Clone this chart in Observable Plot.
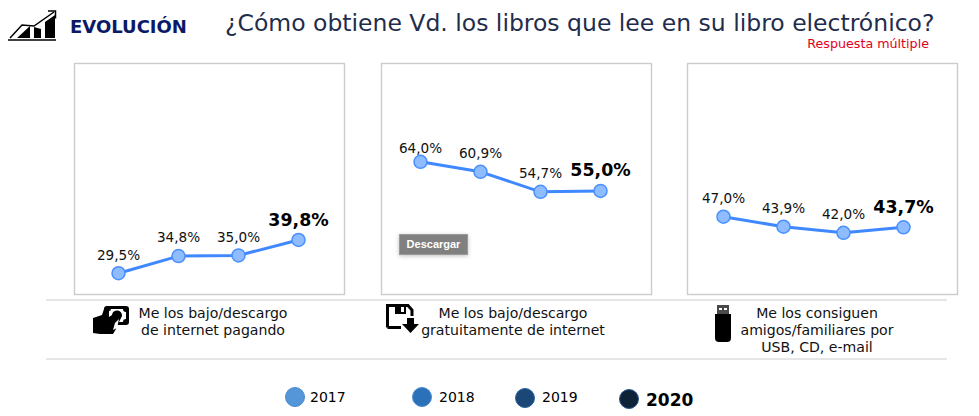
<!DOCTYPE html>
<html lang="es">
<head>
<meta charset="utf-8">
<script src="https://cdn.jsdelivr.net/npm/d3@7"></script>
<script src="https://cdn.jsdelivr.net/npm/@observablehq/plot@0.6"></script>
<style>
html,body{margin:0;padding:0;background:#fff}
#page{position:relative;width:979px;height:416px;overflow:hidden;font-family:"DejaVu Sans",sans-serif;color:#000}
#page>*{position:absolute}
.t{white-space:nowrap;line-height:1}
.cat{font-size:14.1px;line-height:17px;text-align:center;transform:translateX(-50%);white-space:nowrap;color:#111}
.rule{left:46px;width:901px;height:2px;background:#e6e6e6}
.sw{width:20px;height:20px;border-radius:50%;box-sizing:border-box}
</style>
</head>
<body>
<div id="page"></div>
<script>
const years = ["2017", "2018", "2019", "2020"];
const legendColors = ["#5596d9", "#2a71ba", "#1a4775", "#0e2238"];
const pagando = [29.5, 34.8, 35.0, 39.8];
const gratis = [64.0, 60.9, 54.7, 55.0];
const amigos = [47.0, 43.9, 42.0, 43.7];
const titleText = "¿Cómo obtiene Vd. los libros que lee en su libro electrónico?";

const page = document.getElementById("page");
const fmt = v => v.toFixed(1).replace(".", ",") + "%";
const add = (html) => { const h = document.createElement("div"); h.innerHTML = html; const e = h.firstElementChild; page.appendChild(e); return e; };

function panel(values, left, xFrom, xTo) {
  const rows = years.map((year, i) => ({year, value: values[i]}));
  const last = years[years.length - 1];
  const peak = d => d.value >= 64;
  const chart = Plot.plot({
    width: 270, height: 231, margin: 0,
    style: {background: "transparent", fontFamily: "'DejaVu Sans',sans-serif", overflow: "visible"},
    x: {type: "point", domain: years, range: [xFrom, xTo], padding: 0, axis: null},
    y: {domain: [22.9, 94.46], range: [231, 0], axis: null},
    marks: [
      Plot.frame({stroke: "#cccccc", strokeWidth: 1.4, strokeOpacity: 1}),
      Plot.line(rows, {x: "year", y: "value", stroke: "#3f88ff", strokeWidth: 3, curve: "linear"}),
      Plot.dot(rows, {x: "year", y: "value", r: 6.5, fill: "#8fbcff", stroke: "#4a90ff", strokeWidth: 1.5}),
      Plot.text(rows.filter(d => d.year !== last && !peak(d)), {x: "year", y: "value", text: d => fmt(d.value), dy: -18, fontSize: 13.6, fill: "#111"}),
      Plot.text(rows.filter(d => d.year !== last && peak(d)), {x: "year", y: "value", text: d => fmt(d.value), dy: -13, fontSize: 13.6, fill: "#111"}),
      Plot.text(rows.filter(d => d.year === last), {x: "year", y: "value", text: d => fmt(d.value), dy: -20, fontSize: 17.4, fontWeight: "bold", fill: "#000"})
    ]
  });
  chart.style.position = "absolute";
  chart.style.left = left + "px";
  chart.style.top = "63px";
  page.appendChild(chart);
}
panel(pagando, 74, 43, 225);
panel(gratis, 381, 38.7, 220);
panel(amigos, 687, 35.3, 217);

/* header */
add(`<svg style="left:8px;top:9px" width="50" height="33" viewBox="0 0 50 33">
<path d="M0 31H48" stroke="#000" stroke-width="1.5"/>
<path d="M9 29 L22 17V29ZM26 29V18L33 20V29ZM37 29V13L47 6V29Z" fill="#000"/>
<path d="M2 29 L14 16 L26 17 L46 3" fill="none" stroke="#000" stroke-width="1.5"/>
<path d="M40 2H47.5V9.5" fill="none" stroke="#000" stroke-width="1.5"/>
</svg>`);
add(`<div class="t" style="left:70px;top:18px;font-size:18px;font-weight:bold;color:#0b1a66">EVOLUCIÓN</div>`);
add(`<div class="t" style="left:225px;top:12px;font-size:23.5px;color:#1f2d4d">${titleText}</div>`);
add(`<div class="t" style="right:50px;top:38px;font-size:12.7px;color:#e2001a">Respuesta múltiple</div>`);

/* download button */
add(`<div class="t" style="left:399px;top:234px;width:69px;height:21px;box-sizing:border-box;background:#808080;border:1px solid #9a9a9a;box-shadow:0 1px 4px rgba(0,0,0,.25);color:#fff;font:bold 11px/19px 'Liberation Sans',sans-serif;text-align:center">Descargar</div>`);

/* rules and category labels */
add(`<div class="rule" style="top:299px"></div>`);
add(`<div class="rule" style="top:358px"></div>`);
add(`<div class="cat" style="left:213px;top:305px">Me los bajo/descargo<br>de internet pagando</div>`);
add(`<div class="cat" style="left:513px;top:305px">Me los bajo/descargo<br>gratuitamente de internet</div>`);
add(`<div class="cat" style="left:817px;top:305px">Me los consiguen<br>amigos/familiares por<br>USB, CD, e-mail</div>`);

/* icons */
add(`<svg style="left:92px;top:306px" width="38" height="29" viewBox="0 0 38 29">
<path d="M12 3a3 3 0 0 1 3-3H34a3 3 0 0 1 3 3V16a3 3 0 0 1-3 3H25l-1 4-3 5H8L1 27V12L10 9Z" fill="#000"/>
<path d="M17 5a2 2 0 0 0 2-2H31a3 3 0 0 0 3 3V13a3 3 0 0 0-3 3H27L30 10a5 5 0 1 0-10-1L17 11Z" fill="#fff"/>
<circle cx="25" cy="9" r="3" fill="#000"/>
<path d="M23 17L27 13L25 22L21 24Z" fill="#fff"/>
</svg>`);
add(`<svg style="left:386px;top:304px" width="33" height="30" viewBox="0 0 33 30">
<path d="M1.5 23.5V1.5H22L26 6V12" fill="none" stroke="#000" stroke-width="3"/>
<path d="M1.5 23.5H15" fill="none" stroke="#000" stroke-width="3"/>
<path d="M9 2H20V10H9Z" fill="#000"/><path d="M15 3H18V8H15Z" fill="#fff"/>
<path d="M21 14H28V20H33L24.5 29L16 20H21Z" fill="#000"/>
</svg>`);
add(`<svg style="left:714px;top:305px" width="18" height="38" viewBox="0 0 18 38">
<rect x="3" y="0" width="12" height="9" fill="#4a4a4a"/>
<rect x="5" y="3" width="3" height="2" fill="#fff"/><rect x="10" y="3" width="3" height="2" fill="#fff"/>
<path d="M1 9H17V33a4 4 0 0 1-4 4H5a4 4 0 0 1-4-4Z" fill="#000"/>
</svg>`);

/* legend */
const legendPos = [[285, 387, 310], [412, 387, 439], [515, 388, 542], [619, 389, 646]];
years.forEach((y, i) => {
  const [sx, sy, tx] = legendPos[i];
  const bold = i === years.length - 1;
  add(`<div class="sw" style="left:${sx}px;top:${sy}px;background:${legendColors[i]};border:1px solid ${bold ? "#2a5a90" : i === 2 ? "#2a63a0" : "#4a8ad0"}"></div>`);
  add(`<div class="t" style="left:${tx}px;top:${bold ? 392 : 390}px;font-size:${bold ? 17 : 14}px;font-weight:${bold ? "bold" : "normal"}">${y}</div>`);
});
</script>
</body>
</html>
